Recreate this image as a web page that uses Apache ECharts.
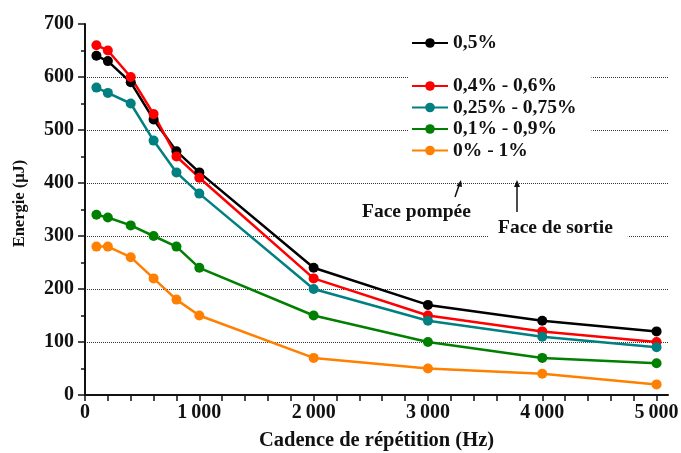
<!DOCTYPE html>
<html><head><meta charset="utf-8">
<script src="https://cdn.jsdelivr.net/npm/echarts@6/dist/echarts.min.js"></script>
<style>html,body{margin:0;padding:0;background:#fff}#c{width:681px;height:453px}</style>
</head><body><div id="c"></div>
<script>
const cadence = [100, 200, 400, 600, 800, 1000, 2000, 3000, 4000, 5000];
const seriesNames = ['0,5%', '0,4% - 0,6%', '0,25% - 0,75%', '0,1% - 0,9%', '0% - 1%'];
const e05 = [640, 630, 590, 520, 460, 420, 240, 170, 140, 120];
const e0406 = [660, 650, 600, 530, 450, 410, 220, 150, 120, 100];
const e025075 = [580, 570, 550, 480, 420, 380, 200, 140, 110, 90];
const e0109 = [340, 335, 320, 300, 280, 240, 150, 100, 70, 60];
const e01 = [280, 280, 260, 220, 180, 150, 70, 50, 40, 20];
const xTickValues = [0,200,400,600,800,1000,1200,1400,1600,1800,2000,2200,2400,2600,2800,3000,3200,3400,3600,3800,4000,4200,4400,4600,4800,5000];
const xLabelValues = [0, 1000, 2000, 3000, 4000, 5000];
const colors = ['#000000', '#ff0000', '#008080', '#008000', '#ff8000'];
const allData = [e05, e0406, e025075, e0109, e01];

const FONT = 'Liberation Serif';
const chart = echarts.init(document.getElementById('c'));
const fmtThousands = v => v >= 1000 ? Math.floor(v/1000) + '\u2009' + String(v % 1000).padStart(3, '0') : String(v);
const legendText = {fontFamily: FONT, fontWeight: 'bold', fontSize: 19.5, color: '#111'};

chart.setOption({
  animation: false,
  backgroundColor: '#fff',
  grid: {left: 85, right: 13, top: 24, bottom: 58, outerBoundsMode: 'none', containLabel: false},
  xAxis: {
    type: 'value', min: 0, max: 5100,
    name: 'Cadence de répétition (Hz)', nameLocation: 'middle', nameGap: 35,
    nameTextStyle: {fontFamily: FONT, fontWeight: 'bold', fontSize: 20.5, color: '#111'},
    axisLine: {show: true, lineStyle: {color: '#111', width: 2}},
    axisTick: {show: true, inside: false, length: 6, lineStyle: {color: '#111', width: 1.5}, customValues: xTickValues},
    axisLabel: {customValues: xLabelValues, formatter: fmtThousands, fontFamily: FONT, fontWeight: 'bold', fontSize: 20, color: '#111', margin: 8},
    splitLine: {show: false}
  },
  yAxis: {
    type: 'value', min: 0, max: 700, interval: 100,
    name: 'Energie (μJ)', nameLocation: 'middle', nameGap: 57,
    nameTextStyle: {fontFamily: FONT, fontWeight: 'bold', fontSize: 16.5, color: '#111', padding: [0, 0, 0, 12]},
    axisLine: {show: true, lineStyle: {color: '#111', width: 2}},
    axisTick: {show: true, inside: false, length: 7, lineStyle: {color: '#111', width: 1.5}},
    minorTick: {show: true, splitNumber: 2, length: 4, lineStyle: {color: '#111', width: 1.5}},
    axisLabel: {fontFamily: FONT, fontWeight: 'bold', fontSize: 20, color: '#111', margin: 11},
    splitLine: {show: true, showMinLine: false, showMaxLine: false, lineStyle: {color: '#333', type: 'dotted', width: 1}}
  },
  legend: [
    {
      data: [seriesNames[0]], orient: 'vertical', left: 408, top: 31,
      itemWidth: 36, itemHeight: 12, padding: [2, 4, 2, 3],
      textStyle: legendText
    },
    {
      data: seriesNames.slice(1), orient: 'vertical', left: 408, top: 68,
      itemWidth: 36, itemHeight: 12, itemGap: 1.5, padding: [8, 15, 6, 3],
      backgroundColor: '#fff',
      textStyle: legendText
    }
  ],
  series: seriesNames.map((n, i) => ({
    name: n, type: 'line',
    data: cadence.map((c, j) => [c, allData[i][j]]),
    symbol: 'circle', symbolSize: 10,
    lineStyle: {color: colors[i], width: 2.5},
    itemStyle: {color: colors[i]}
  })),
  graphic: [
    {type: 'text', left: 362, top: 202, z: 100,
     style: {text: 'Face pompée', fontFamily: FONT, fontWeight: 'bold', fontSize: 19.5, fill: '#111'}},
    {type: 'text', left: 488, top: 216, z: 100,
     style: {text: 'Face de sortie', fontFamily: FONT, fontWeight: 'bold', fontSize: 19.5, fill: '#111',
             backgroundColor: '#fff', padding: [2, 15, 2, 10]}},
    {type: 'line', z: 100, shape: {x1: 455, y1: 197, x2: 459.5, y2: 184}, style: {stroke: '#111', lineWidth: 1.5}},
    {type: 'polygon', z: 100, shape: {points: [[461, 180], [456.5, 186], [462, 187]]}, style: {fill: '#111'}},
    {type: 'line', z: 100, shape: {x1: 517, y1: 212, x2: 517, y2: 185}, style: {stroke: '#111', lineWidth: 1.5}},
    {type: 'polygon', z: 100, shape: {points: [[517, 180], [514, 187], [520, 187]]}, style: {fill: '#111'}}
  ]
});
</script></body></html>
